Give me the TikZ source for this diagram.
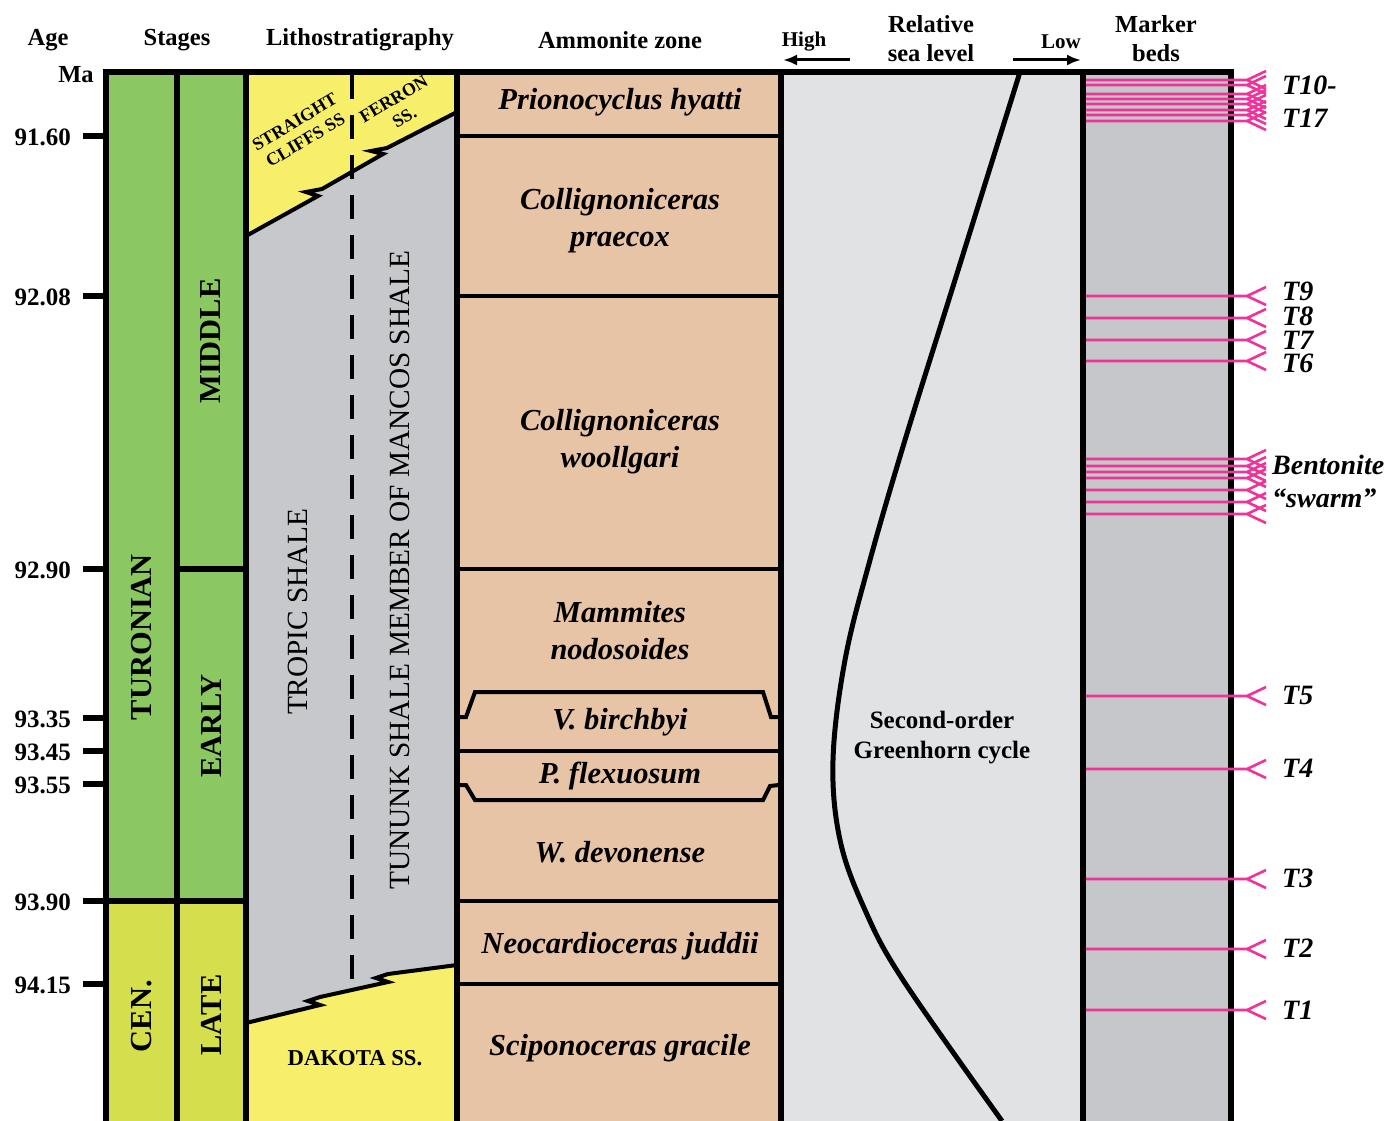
\documentclass[tikz,border=0pt]{standalone}
\usepackage{fontspec}
\setmainfont{Liberation Serif}
\usetikzlibrary{arrows.meta}
\definecolor{stgreen}{HTML}{8CC862}
\definecolor{cengreen}{HTML}{D5DE4C}
\definecolor{ssyellow}{HTML}{F7EE6A}
\definecolor{shalegray}{HTML}{C6C8CC}
\definecolor{amtan}{HTML}{E8C4A6}
\definecolor{sealight}{HTML}{E1E2E3}
\definecolor{markgray}{HTML}{C5C7CA}
\definecolor{pinkbed}{HTML}{EE3399}
\begin{document}
\begin{tikzpicture}[x=1pt,y=-1pt,
  frame/.style={line width=6pt},
  inner/.style={line width=4pt},
  hdr/.style={font=\fontsize{24.5}{29}\selectfont\bfseries, align=center},
  smallhdr/.style={font=\fontsize{21}{23}\selectfont\bfseries},
  arr/.style={line width=3pt,-{Latex[length=14pt,width=11pt]}},
  agel/.style={font=\fontsize{25}{27}\selectfont\bfseries, anchor=east, inner sep=0pt},
  stg/.style={font=\fontsize{30.5}{31}\selectfont\bfseries, rotate=90},
  litho/.style={font=\fontsize{29.3}{31}\selectfont},
  slant/.style={font=\fontsize{18}{21}\selectfont\bfseries, align=center, rotate=31, inner sep=0pt},
  amm/.style={font=\fontsize{30.5}{37}\selectfont\bfseries\itshape, align=center},
  mk/.style={font=\fontsize{28}{32}\selectfont\bfseries\itshape, anchor=west, inner sep=0pt},
  bed/.style={pinkbed, line width=2.6pt},
]
\useasboundingbox (0,0) rectangle (1386,1121);
\fill[white] (0,0) rectangle (1386,1121);
% stages
\fill[stgreen] (105,72) rectangle (246,901);
\fill[cengreen] (105,901) rectangle (246,1121);
% lithostratigraphy
\fill[shalegray] (246,72) rectangle (457,1121);
\fill[ssyellow] (246,72) -- (457,72) -- (457,112) -- (387,148) -- (371,151) -- (383,154) -- (322,189) -- (306,192) -- (318,196) -- (246,236) -- cycle;
\fill[ssyellow] (246,1121) -- (246,1023) -- (320,1005) -- (308,1001) -- (320,997) -- (388,982) -- (376,978) -- (388,974) -- (457,965) -- (457,1121) -- cycle;
\draw[line width=4pt, dash pattern=on 24pt off 16pt] (352,75) -- (352,991);
\draw[inner] (457,112) -- (387,148) -- (371,151) -- (383,154) -- (322,189) -- (306,192) -- (318,196) -- (246,236);
\draw[inner] (246,1023) -- (320,1005) -- (308,1001) -- (320,997) -- (388,982) -- (376,978) -- (388,974) -- (457,965);
% ammonite zone
\fill[amtan] (457,72) rectangle (781,1121);
\foreach \yy in {136,296,569,751,901,984} {\draw[inner] (457,\yy) -- (781,\yy);}
\draw[inner] (459,717) -- (466,717) -- (475,692) -- (763,692) -- (771,717) -- (779,717);
\draw[inner] (459,785) -- (466,785) -- (475,800) -- (763,800) -- (770,786) -- (779,785);
% sea level
\fill[sealight] (781,72) rectangle (1083,1121);
\draw[line width=5pt] plot[smooth, tension=0.6] coordinates {(1020,72) (1005,120) (950,296) (905,440) (870,560) (845,660) (833,760) (840,840) (865,910) (903,980) (1002,1121)};
% marker beds
\fill[markgray] (1083,72) rectangle (1230,1121);
% frame
\foreach \xx in {105.5,176.5,246,457,781,1083,1230.5} {\draw[frame] (\xx,72) -- (\xx,1121);}
\draw[frame] (102.5,72.5) -- (1233.5,72.5);
\draw[frame] (105,901) -- (246,901);
\draw[frame] (176,569) -- (246,569);
% age ticks
\foreach \yy in {136,296,569,718,751,784,901,984} {\draw[frame] (83,\yy) -- (105,\yy);}
% beds
\foreach \yy in {80,85,94,99,104,110,115,121,296,318,340,361,459,466,472,478,490,502,514,696,769,879,949,1010} {
  \draw[bed] (1086,\yy) -- (1247,\yy) (1266,\yy-9) -- (1247,\yy) -- (1266,\yy+9);
}
% headers
\node[hdr] (hage) at (48,40) {Age};
\node[hdr] (hstg) at (177,40) {Stages};
\node[hdr] (hlit) at (360,40) {Lithostratigraphy};
\node[hdr] (hamm) at (620,40) {Ammonite zone};
\node[hdr] (hrsl) at (931,39) {Relative\\sea level};
\node[hdr] (hmk) at (1156,39) {Marker\\beds};
\node[smallhdr] (hhigh) at (804,42) {High};
\node[smallhdr] (hlow) at (1061,42) {Low};
\coordinate (hiA) at (850,60); \coordinate (hiB) at (783,60);
\coordinate (loA) at (1013,60); \coordinate (loB) at (1081,60);
\draw[arr] (hiA) -- (hiB);
\draw[arr] (loA) -- (loB);
% ages
\node[hdr] (ma) at (76,75) {Ma};
\node[agel] (a1) at (71,137) {91.60};
\node[agel] (a2) at (71,297) {92.08};
\node[agel] (a3) at (71,570) {92.90};
\node[agel] (a4) at (71,719) {93.35};
\node[agel] (a5) at (71,752) {93.45};
\node[agel] (a6) at (71,785) {93.55};
\node[agel] (a7) at (71,902) {93.90};
\node[agel] (a8) at (71,985) {94.15};
% stages text
\node[stg] (tur) at (142,637) {TURONIAN};
\node[stg] (cen) at (142,1016) {CEN.};
\node[stg] (mid) at (211,341) {MIDDLE};
\node[stg] (ear) at (211,726) {EARLY};
\node[stg] (lat) at (211,1015) {LATE};
% litho text
\node[slant] (strt) at (300,131) {STRAIGHT\\CLIFFS SS};
\node[slant] (ferr) at (399,108) {FERRON\\SS.};
\node[litho, rotate=90] (trop) at (298,612) {TROPIC SHALE};
\node[litho, rotate=90] (tun) at (400,570) {TUNUNK SHALE MEMBER OF MANCOS SHALE};
\node[font=\fontsize{22.7}{24}\selectfont\bfseries] (dak) at (355,1058) {DAKOTA SS.};
% ammonites
\node[amm] (z1) at (620,102) {Prionocyclus hyatti};
\node[amm] (z2) at (620,221) {Collignoniceras\\praecox};
\node[amm] (z3) at (620,442) {Collignoniceras\\woollgari};
\node[amm] (z4) at (620,631) {Mammites\\nodosoides};
\node[amm] (z5) at (620,722) {V. birchbyi};
\node[amm] (z6) at (620,776) {P. flexuosum};
\node[amm] (z7) at (620,852) {W. devonense};
\node[amm] (z8) at (620,946) {Neocardioceras juddii};
\node[amm] (z9) at (620,1048) {Sciponoceras gracile};
% sea level text
\node[hdr, font=\fontsize{25}{30}\selectfont\bfseries] (cyc) at (942,738) {Second-order\\Greenhorn cycle};
% marker labels
\node[mk] (m10) at (1282,85) {T10-};
\node[mk] (m17) at (1282,118) {T17};
\node[mk] (m9) at (1282,291) {T9};
\node[mk] (m8) at (1282,316) {T8};
\node[mk] (m7) at (1282,340) {T7};
\node[mk] (m6) at (1282,363) {T6};
\node[mk] (mb) at (1272,465) {Bentonite};
\node[mk] (ms) at (1272,498) {``swarm''};
\node[mk] (m5) at (1282,695) {T5};
\node[mk] (m4) at (1282,768) {T4};
\node[mk] (m3) at (1282,878) {T3};
\node[mk] (m2) at (1282,948) {T2};
\node[mk] (m1) at (1282,1010) {T1};
\end{tikzpicture}
\end{document}
